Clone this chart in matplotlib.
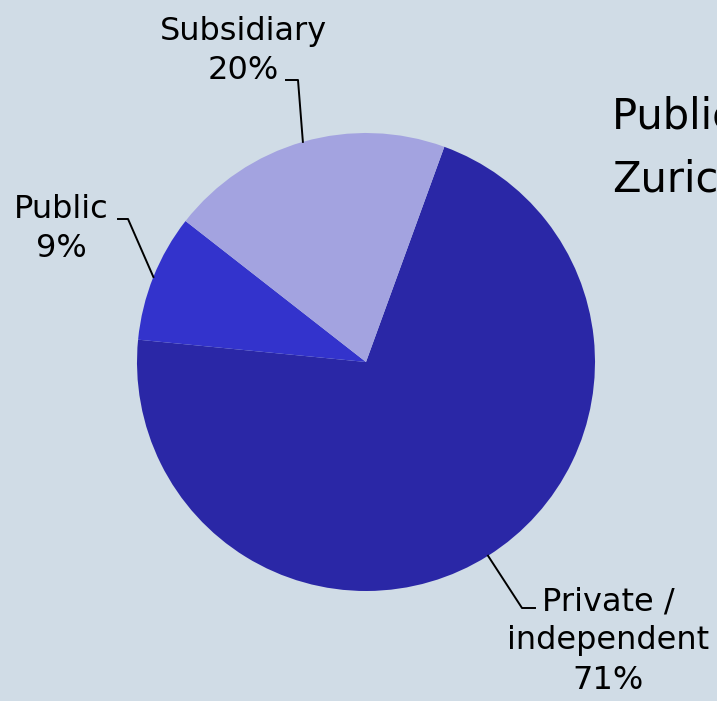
import matplotlib

matplotlib.use("Agg")
import matplotlib.pyplot as plt
import numpy as np

labels = ["Private /\nindependent", "Public", "Subsidiary"]
shares = [71, 9, 20]
colors = ["#2a27a6", "#3333cc", "#a3a3e0"]
title = "Public vs. private\nZurich"

BG = "#d0dce6"
W, H = 717, 701
CX, CY, R = 366, 362, 229


def px(x, y):
    # pixel position -> data coords (pie radius = 1)
    return (x - CX) / R, (CY - y) / R


# label anchor, elbow and end of leader in pixels
label_pos = [(608, 641), (61, 229), (243, 51)]
elbows = [((522, 608), (535, 608)), ((128, 219), (118, 219)), ((298, 80), (286, 80))]

fig = plt.figure(figsize=(W / 100, H / 100), dpi=100, facecolor=BG)
ax = fig.add_axes([0, 0, 1, 1])
ax.set_facecolor(BG)
wedges, _ = ax.pie(shares, colors=colors, startangle=70, counterclock=False,
                   radius=1, wedgeprops=dict(linewidth=0))
ax.set_xlim(-CX / R, (W - CX) / R)
ax.set_ylim((CY - H) / R, CY / R)
ax.set_aspect("equal")
ax.axis("off")

for w, lab, s, pos, (e1, e2) in zip(wedges, labels, shares, label_pos, elbows):
    mid = np.deg2rad((w.theta1 + w.theta2) / 2)
    x0, y0 = np.cos(mid), np.sin(mid)
    x1, y1 = px(*e1)
    x2, y2 = px(*e2)
    ax.plot([x0, x1, x2], [y0, y1, y2], color="black", lw=1.4)
    tx, ty = px(*pos)
    ax.text(tx, ty, f"{lab}\n{s}%", ha="center", va="center", fontsize=23,
            linespacing=1.35, color="black")

fig.text(612 / W, 1 - 192 / H, title, ha="left", va="baseline", fontsize=30,
         linespacing=1.65, color="black")

fig.savefig("out.png", facecolor=BG)
plt.close(fig)
